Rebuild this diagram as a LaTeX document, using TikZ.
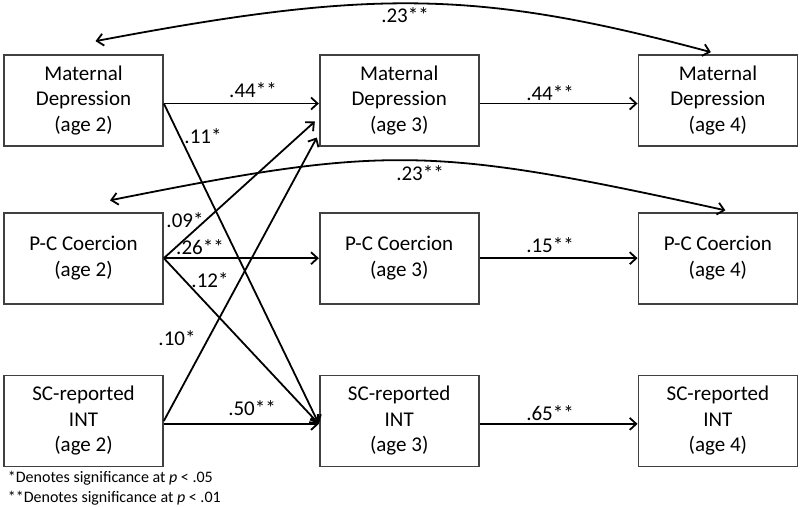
\documentclass[tikz,border=0pt]{standalone}
\usepackage{fontspec}
\setmainfont{Carlito}
\usepackage{tikz}
\usetikzlibrary{arrows.meta,calc,positioning}
\tikzset{
	path diagram/.style={
		x=1pt, y=-1pt,
		line width=1.8pt,
		node distance=65pt and 155pt,
		font=\fontsize{21}{25.5}\selectfont,
		ar/.style={-{Straight Barb[length=6.5pt,width=12pt]}},
		dar/.style={{Straight Barb[length=6.5pt,width=12pt]}-{Straight Barb[length=6.5pt,width=12pt]}},
		coef/.style={inner sep=0pt}
		},
	var/.style={draw=black!75, line width=1.7pt, minimum width=159pt,
		minimum height=91pt, align=center, inner sep=0pt},
	note/.style={font=\fontsize{16}{20}\selectfont, align=left, anchor=west, inner sep=0pt}
}

\begin{document}
\begin{tikzpicture}[path diagram]
   \useasboundingbox (0,0) rectangle (800,506);
   % age 2
   \node[var] (MD2) at (83.5,100.5) {Maternal\\Depression\\(age 2)};
   \node[var, below=of MD2] (PC2) {P-C Coercion\\(age 2)};
   \node[var, below=70pt of PC2] (SC2) {SC-reported\\INT\\(age 2)};
   % age 3
   \node[var, right=of MD2] (MD3) {Maternal\\Depression\\(age 3)};
   \node[var, right=of PC2] (PC3) {P-C Coercion\\(age 3)};
   \node[var, right=of SC2] (SC3) {SC-reported\\INT\\(age 3)};
   % age 4
   \node[var, right=158pt of MD3] (MD4) {Maternal\\Depression\\(age 4)};
   \node[var, right=158pt of PC3] (PC4) {P-C Coercion\\(age 4)};
   \node[var, right=158pt of SC3] (SC4) {SC-reported\\INT\\(age 4)};
   % paths
   \draw[ar] ([yshift=-3pt]MD2.east) -- ([yshift=-3pt]MD3.west);
   \draw[ar] ([yshift=-3pt]MD3.east) -- ([yshift=-3pt]MD4.west);
   \draw[ar] (PC2.east) -- (PC3.west);
   \draw[ar] (PC3.east) -- (PC4.west);
   \draw[ar] ([yshift=-3pt]SC2.east) -- ([yshift=-3pt]SC3.west);
   \draw[ar] ([yshift=-3pt]SC3.east) -- ([yshift=-3pt]SC4.west);
   \draw[ar] ([yshift=-3pt]MD2.east) -- ([yshift=-3pt]SC3.west);
   \draw[ar] (PC2.east) -- ([yshift=-3pt]SC3.west);
   \draw[ar] (PC2.east) -- ($(MD3.west)+(-4,21)$);
   \draw[ar] (SC2.east) -- ($(MD3.west)+(-2,37)$);
   % covariances
   \coordinate (t1) at ($(MD2.north)+(12,-13)$);
   \coordinate (t2) at ($(MD4.north)+(-7,-2)$);
   \coordinate (s1) at ($(PC2.north)+(26.5,-11.5)$);
   \coordinate (s2) at ($(PC4.north)+(7.5,-1.5)$);
   \draw[dar] (t1) .. controls +(275,-52) and +(-235,-63) .. (t2);
   \draw[dar] (s1) .. controls +(275,-55) and +(-295,-65) .. (s2);
   % coefficients
   \node[coef] (b1) at (253,90) {.44**};
   \node[coef] (b2) at (550,93) {.44**};
   \node[coef] (b3) at (203,136) {.11*};
   \node[coef] (b4) at (185,220) {.09*};
   \node[coef] (b5) at (200,247) {.26**};
   \node[coef] (b6) at (210,280) {.12*};
   \node[coef] (b7) at (177,338) {.10*};
   \node[coef] (b8) at (252,408) {.50**};
   \node[coef] (b9) at (550,245) {.15**};
   \node[coef] (b10) at (550,413) {.65**};
   \node[coef] (r1) at (405,15) {.23**};
   \node[coef] (r2) at (420,173) {.23**};
   \node[note] (n1) at (7,488) {*Denotes significance at \textit{p} < .05\\**Denotes significance at \textit{p} < .01};
\end{tikzpicture}
\end{document}
